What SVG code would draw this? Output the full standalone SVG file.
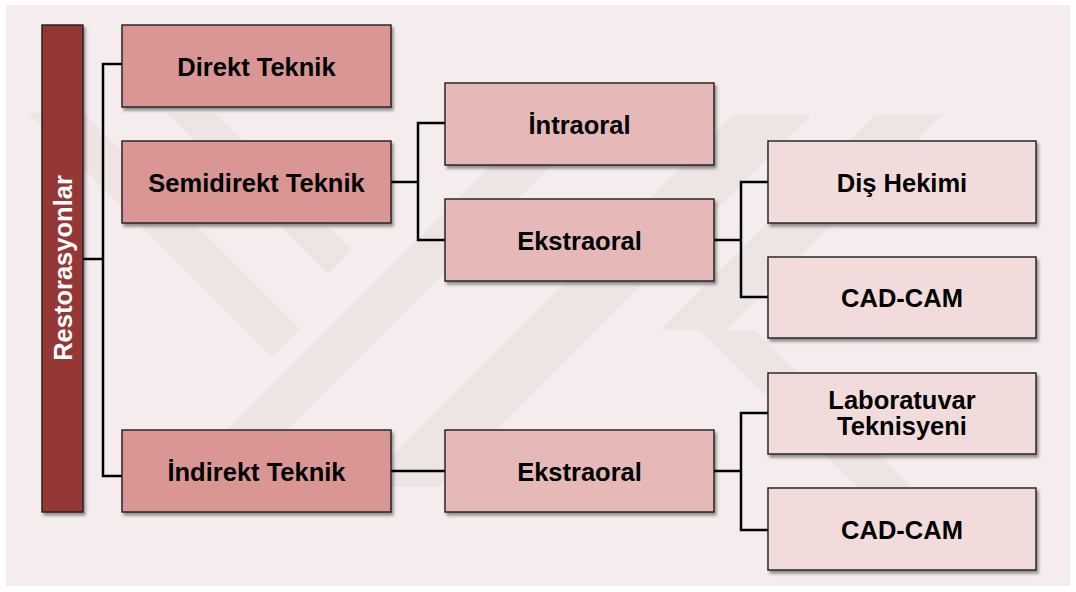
<svg xmlns="http://www.w3.org/2000/svg" width="1076" height="592" viewBox="0 0 1076 592">
  <defs>
    <filter id="shadow" x="-10%" y="-10%" width="125%" height="135%">
      <feDropShadow dx="2" dy="3" stdDeviation="1.6" flood-color="#000" flood-opacity="0.4"/>
    </filter>
    <style>
      .box { stroke: #1e1e1e; stroke-width: 1.4; filter: url(#shadow); }
      .l1 { fill: #d99694; }
      .l2 { fill: #e6b9b8; }
      .l3 { fill: #f2dcdb; }
      .root { fill: #953735; stroke: #1e1e1e; stroke-width: 1.4; filter: url(#shadow); }
      .lbl { font-family: "Liberation Sans", Arial, sans-serif; font-weight: bold; font-size: 25.5px; fill: #000; text-anchor: middle; }
      .rootlbl { fill: #fff; }
      .wire { fill: none; stroke: #000; stroke-width: 2.5; stroke-linejoin: miter; stroke-linecap: butt; }
      .mark { fill: #ede4e4; }
    </style>
  </defs>

  <!-- page background -->
  <rect x="0" y="0" width="1076" height="592" fill="#ffffff"/>
  <rect x="6" y="5" width="1064" height="581" fill="#f5eded"/>

  <!-- faint background emblem stripes -->
  <g id="emblem">
    <polygon class="mark" points="28,113 84,113 300,329 272,357"/>
    <polygon class="mark" points="167,113 215,113 352,250 328,274"/>
    <polygon class="mark" points="170,487 230,487 604,113 544,113"/>
    <polygon class="mark" points="361,487 439,487 811,115 733,115"/>
    <polygon class="mark" points="660,330 727,330 942,115 875,115"/>
    <polygon class="mark" points="700,330 755,330 912,487 857,487"/>
  </g>

  <!-- connectors -->
  <g id="connectors">
    <path class="wire" d="M83,259 H103"/>
    <path class="wire" d="M122,64 H103 V476 H122"/>
    <path class="wire" d="M391,182 H418"/>
    <path class="wire" d="M445,123 H418 V240 H445"/>
    <path class="wire" d="M714,240 H741"/>
    <path class="wire" d="M768,182 H741 V297 H768"/>
    <path class="wire" d="M391,471 H445"/>
    <path class="wire" d="M714,471 H741"/>
    <path class="wire" d="M768,413 H741 V530 H768"/>
  </g>

  <!-- root -->
  <g id="restorasyonlar">
    <rect class="root" x="42" y="25" width="41" height="487"/>
    <text class="lbl rootlbl" transform="translate(72,268) rotate(-90)">Restorasyonlar</text>
  </g>

  <!-- level 1 -->
  <g id="direkt-teknik">
    <rect class="box l1" x="122" y="25" width="269" height="82"/>
    <text class="lbl" x="256.5" y="75.5">Direkt Teknik</text>
  </g>
  <g id="semidirekt-teknik">
    <rect class="box l1" x="122" y="141" width="269" height="82"/>
    <text class="lbl" x="256.5" y="191.5">Semidirekt Teknik</text>
  </g>
  <g id="indirekt-teknik">
    <rect class="box l1" x="122" y="430" width="269" height="82"/>
    <text class="lbl" x="256.5" y="480.5">İndirekt Teknik</text>
  </g>

  <!-- level 2 -->
  <g id="intraoral">
    <rect class="box l2" x="445" y="83" width="269" height="82"/>
    <text class="lbl" x="579.5" y="133.5">İntraoral</text>
  </g>
  <g id="ekstraoral-semidirekt">
    <rect class="box l2" x="445" y="199" width="269" height="82"/>
    <text class="lbl" x="579.5" y="249.5">Ekstraoral</text>
  </g>
  <g id="ekstraoral-indirekt">
    <rect class="box l2" x="445" y="430" width="269" height="82"/>
    <text class="lbl" x="579.5" y="480.5">Ekstraoral</text>
  </g>

  <!-- level 3 -->
  <g id="dis-hekimi">
    <rect class="box l3" x="768" y="141" width="268" height="82"/>
    <text class="lbl" x="902" y="191.5">Diş Hekimi</text>
  </g>
  <g id="cad-cam-1">
    <rect class="box l3" x="768" y="257" width="268" height="81"/>
    <text class="lbl" x="902" y="307">CAD-CAM</text>
  </g>
  <g id="laboratuvar-teknisyeni">
    <rect class="box l3" x="768" y="373" width="268" height="81"/>
    <text class="lbl" x="902" y="409">Laboratuvar</text>
    <text class="lbl" x="902" y="435">Teknisyeni</text>
  </g>
  <g id="cad-cam-2">
    <rect class="box l3" x="768" y="488" width="268" height="82"/>
    <text class="lbl" x="902" y="538.5">CAD-CAM</text>
  </g>
</svg>
